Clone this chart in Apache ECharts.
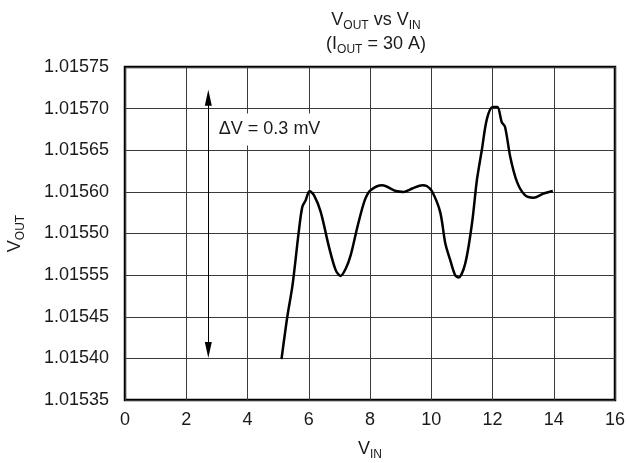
<!DOCTYPE html>
<html>
<head>
<meta charset="utf-8">
<script src="https://cdn.jsdelivr.net/npm/echarts@6/dist/echarts.min.js"></script>
<style>html,body{margin:0;padding:0;background:#fff}#c{width:627px;height:463px}</style>
</head>
<body>
<div id="c"></div>
<script>
var vin = [5.11,5.30,5.47,5.68,5.79,5.90,6.03,6.17,6.39,6.66,6.88,7.04,7.21,7.37,7.59,7.83,8.02,8.40,8.84,9.11,9.38,9.71,9.85,10.02,10.29,10.46,10.62,10.78,10.89,11.11,11.33,11.49,11.65,11.82,12.01,12.16,12.30,12.41,12.58,12.80,13.06,13.34,13.67,13.97];
var vout = [1.015399,1.015450,1.015488,1.015554,1.015582,1.015590,1.015601,1.015596,1.015576,1.015534,1.015506,1.015499,1.015508,1.015524,1.015558,1.015590,1.015602,1.015608,1.015601,1.015600,1.015604,1.015608,1.015607,1.015601,1.015576,1.015538,1.015518,1.015500,1.015497,1.015514,1.015562,1.015614,1.015650,1.015688,1.015702,1.015702,1.015684,1.015678,1.015642,1.015612,1.015596,1.015593,1.015598,1.015601];
var xTickLabels = ['0','2','4','6','8','10','12','14','16'];
var yTickLabels = ['1.01535','1.01540','1.01545','1.01555','1.01550','1.01560','1.01565','1.01570','1.01575'];
var yMin = 1.01535, yMax = 1.01575, yStep = 0.00005;
var arrowX = 2.72, arrowTop = 1.015713, arrowBottom = 1.015410;
var noteX = 2.90, noteY = 1.015675, noteText = 'ΔV = 0.3 mV';

var FONT = 'Liberation Sans, Arial, Helvetica, sans-serif';
var TXT = '#1a1a1a';
var chart = echarts.init(document.getElementById('c'));
var pts = vin.map(function (x, i) { return [x, vout[i]]; });
var richVS = {
  v: { fontSize: 18, lineHeight: 24, fontFamily: FONT, color: TXT },
  s: { fontSize: 12, lineHeight: 17, verticalAlign: 'bottom', fontFamily: FONT, color: TXT }
};

chart.setOption({
  animation: false,
  backgroundColor: '#fff',
  title: {
    text: '{v|V}{s|OUT}{v| vs V}{s|IN}\n{v|(I}{s|OUT}{v| = 30 A)}',
    left: 371, top: 3, textAlign: 'center',
    textStyle: { fontFamily: FONT, fontWeight: 'normal', color: TXT, rich: richVS }
  },
  grid: { left: 125, right: 12, top: 67, bottom: 63, show: true, borderColor: '#000', borderWidth: 2.5,
    backgroundColor: 'transparent', containLabel: false, outerBoundsMode: 'none' },
  xAxis: {
    type: 'value', min: 0, max: 16, interval: 2,
    name: '{v|V}{s|IN}', nameLocation: 'middle', nameGap: 37,
    nameTextStyle: { rich: richVS },
    axisLine: { show: false }, axisTick: { show: false },
    axisLabel: { fontSize: 18, fontFamily: FONT, color: TXT, margin: 11,
      formatter: function (v) { return xTickLabels[Math.round(v / 2)]; } },
    splitLine: { show: true, lineStyle: { color: '#3a3a3a', width: 1 } }
  },
  yAxis: {
    type: 'value', min: yMin, max: yMax, interval: yStep,
    name: '{v|V}{s|OUT}', nameLocation: 'middle', nameGap: 98, nameRotate: 90,
    nameTextStyle: { rich: richVS },
    axisLine: { show: false }, axisTick: { show: false },
    axisLabel: { fontSize: 18, fontFamily: FONT, color: TXT, margin: 16,
      formatter: function (v) { return yTickLabels[Math.round((v - yMin) / yStep)]; } },
    splitLine: { show: true, lineStyle: { color: '#3a3a3a', width: 1 } }
  },
  series: [{
    type: 'line', data: pts, smooth: 0.3, showSymbol: false, symbol: 'none',
    lineStyle: { color: '#000', width: 2.5 },
    markLine: {
      silent: true, symbol: ['triangle', 'triangle'], symbolSize: [7, 16],
      lineStyle: { color: '#000', width: 1, type: 'solid' },
      label: { show: false },
      data: [[{ coord: [arrowX, arrowBottom] }, { coord: [arrowX, arrowTop] }]]
    },
    markPoint: {
      silent: true, symbol: 'rect', symbolSize: 0,
      label: { show: true, position: 'right', distance: 0, formatter: noteText,
        fontSize: 18, fontFamily: FONT, color: TXT, backgroundColor: '#fff',
        padding: [6, 5, 6, 5], lineHeight: 20 },
      data: [{ coord: [noteX, noteY] }]
    }
  }]
});
</script>
</body>
</html>
